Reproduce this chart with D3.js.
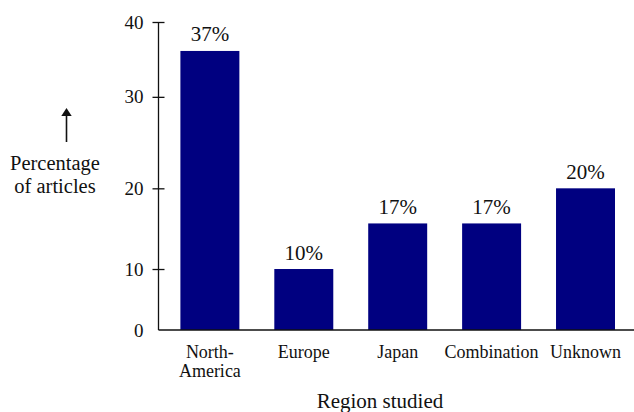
<!DOCTYPE html>
<html>
<head>
<meta charset="utf-8">
<script src="https://cdn.jsdelivr.net/npm/d3@7"></script>
<style>
  html, body { margin: 0; padding: 0; background: #fff; }
  svg { display: block; }
</style>
</head>
<body>
<svg id="chart" width="634" height="412"></svg>
<script>
// Share of articles by region studied (percent)
const categories = ["North-America", "Europe", "Japan", "Combination", "Unknown"];
const percentages = [37, 10, 17, 17, 20];
const tickValues = [0, 10, 20, 30, 40];
const tickLabels = ["0", "10", "20", "30", "40"];
const axisTitle = ["Percentage", "of articles"];
const xTitle = "Region studied";

const FONT = "Liberation Serif";
const INK = "#111";

const plot = { left: 158.5, right: 634, top: 22, bottom: 330 };
const plotH = plot.bottom - plot.top;

const svg = d3.select("#chart").attr("font-family", FONT);

// The printed value axis is not evenly spaced; the scale follows its spacing
// piece by piece (stops given as fractions of the axis height).
const yStops = [0, 10, 17, 20, 30, 37, 40];
const yFrac  = [0, 0.198, 0.346, 0.46, 0.757, 0.906, 1];
const y = d3.scaleLinear()
  .domain(yStops)
  .range(yFrac.map(f => plot.bottom - f * plotH));

const x = d3.scaleBand()
  .domain(categories)
  .range([180.4, 615])
  .paddingInner(0.372)
  .paddingOuter(0);

const rows = categories.map((c, i) => ({ c, v: percentages[i] }));

// bars
svg.append("g")
  .selectAll("rect")
  .data(rows)
  .join("rect")
  .attr("x", d => x(d.c))
  .attr("y", d => y(d.v))
  .attr("width", x.bandwidth())
  .attr("height", d => y(0) - y(d.v))
  .attr("fill", "#000080");

// value labels
svg.append("g")
  .selectAll("text")
  .data(rows)
  .join("text")
  .attr("x", d => x(d.c) + x.bandwidth() / 2)
  .attr("y", d => y(d.v) - 9.5)
  .attr("text-anchor", "middle")
  .attr("font-family", FONT)
  .attr("font-size", 21)
  .attr("fill", INK)
  .text(d => d.v + "%");

// value axis
const yAxis = d3.axisLeft(y)
  .tickValues(tickValues)
  .tickFormat((d, i) => tickLabels[i])
  .tickSizeInner(6)
  .tickSizeOuter(0)
  .tickPadding(9);

const gy = svg.append("g")
  .attr("transform", `translate(${plot.left},0)`)
  .call(yAxis)
  .attr("font-family", FONT)
  .attr("font-size", 19);
gy.select(".domain").remove();
gy.selectAll(".tick line")
  .attr("x1", -6).attr("x2", 6)
  .attr("stroke", INK).attr("stroke-width", 1.3)
  .attr("display", d => d === 0 ? "none" : null);
gy.selectAll(".tick text")
  .attr("font-family", FONT)
  .attr("font-size", 19)
  .attr("fill", INK);

// axis lines
svg.append("line")
  .attr("x1", plot.left).attr("x2", plot.left)
  .attr("y1", y(40)).attr("y2", plot.bottom)
  .attr("stroke", INK).attr("stroke-width", 1.3);
svg.append("line")
  .attr("x1", plot.left).attr("x2", plot.right)
  .attr("y1", plot.bottom).attr("y2", plot.bottom)
  .attr("stroke", INK).attr("stroke-width", 1.3);

// category labels (wrapped after a hyphen)
const catG = svg.append("g");
categories.forEach(c => {
  const cut = c.indexOf("-");
  const lines = cut >= 0 ? [c.slice(0, cut + 1), c.slice(cut + 1)] : [c];
  const cx = x(c) + x.bandwidth() / 2;
  lines.forEach((l, i) => {
    catG.append("text")
      .attr("x", cx)
      .attr("y", 357.5 + i * 19)
      .attr("text-anchor", "middle")
      .attr("font-family", FONT)
      .attr("font-size", 18)
      .attr("fill", INK)
      .text(l);
  });
});

// x title
svg.append("text")
  .attr("x", 380)
  .attr("y", 408)
  .attr("text-anchor", "middle")
  .attr("font-family", FONT)
  .attr("font-size", 21)
  .attr("fill", INK)
  .text(xTitle);

// y title with upward arrow
const yt = svg.append("text")
  .attr("x", 55)
  .attr("y", 170)
  .attr("text-anchor", "middle")
  .attr("font-family", FONT)
  .attr("font-size", 20.5)
  .attr("fill", INK);
axisTitle.forEach((l, i) => {
  yt.append("tspan").attr("x", 55).attr("dy", i === 0 ? 0 : 23).text(l);
});

svg.append("line")
  .attr("x1", 66.5).attr("x2", 66.5)
  .attr("y1", 114).attr("y2", 142)
  .attr("stroke", INK).attr("stroke-width", 1.6);
svg.append("path")
  .attr("d", d3.line()([[66.5, 108], [61.3, 116], [71.7, 116]]) + "Z")
  .attr("fill", INK);
</script>
</body>
</html>
